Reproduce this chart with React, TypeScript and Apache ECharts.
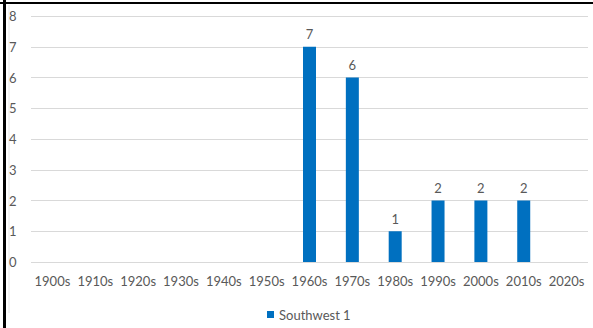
import React, { useEffect, useRef } from "react";
import * as echarts from "echarts";

const categories = ["1900s", "1910s", "1920s", "1930s", "1940s", "1950s", "1960s", "1970s", "1980s", "1990s", "2000s", "2010s", "2020s"];
const seriesName = "Southwest 1";
const values: (number | null)[] = [null, null, null, null, null, null, 7, 6, 1, 2, 2, 2, null];

export default function App() {
  const ref = useRef<HTMLDivElement>(null);
  useEffect(() => {
    if (!ref.current) return;
    const chart = echarts.init(ref.current, null, { renderer: "svg" });
    const font = "Lato, 'Open Sans', sans-serif";
    chart.setOption({
      animation: false,
      backgroundColor: "#ffffff",
      textStyle: { fontFamily: font },
      grid: { left: 31, right: 5, top: 16, bottom: 66 },
      xAxis: {
        type: "category",
        data: categories,
        axisLine: { show: false },
        axisTick: { show: false },
        axisLabel: { color: "#595959", fontSize: 13, margin: 12, fontFamily: font, interval: 0 },
      },
      yAxis: {
        type: "value",
        min: 0,
        max: 8,
        interval: 1,
        axisLine: { show: false },
        axisTick: { show: false },
        splitLine: { lineStyle: { color: "#d9d9d9", width: 1 } },
        axisLabel: { color: "#595959", fontSize: 13, align: "left", margin: 22, fontFamily: font },
      },
      legend: {
        data: [seriesName],
        left: 262,
        top: 303,
        itemWidth: 7,
        itemHeight: 7,
        icon: "rect",
        itemGap: 5,
        textStyle: { color: "#595959", fontSize: 13, fontFamily: font },
      },
      series: [
        {
          name: seriesName,
          type: "bar",
          data: values,
          barWidth: 13,
          itemStyle: { color: "#0070C0" },
          label: { show: true, position: "top", color: "#595959", fontSize: 13, distance: 6, fontFamily: font },
        },
      ],
      graphic: [
        { type: "rect", left: 3, top: 0, shape: { width: 3, height: 328 }, style: { fill: "#000" } },
        { type: "rect", left: 0, top: 2, shape: { width: 593, height: 2 }, style: { fill: "#000" } },
        { type: "line", shape: { x1: 9, y1: 5, x2: 9, y2: 313 }, style: { stroke: "#e6e6e6", lineWidth: 1 } },
      ],
    });
    return () => chart.dispose();
  }, []);
  return <div ref={ref} style={{ width: 593, height: 328, position: "absolute", left: 0, top: 0 }} />;
}
